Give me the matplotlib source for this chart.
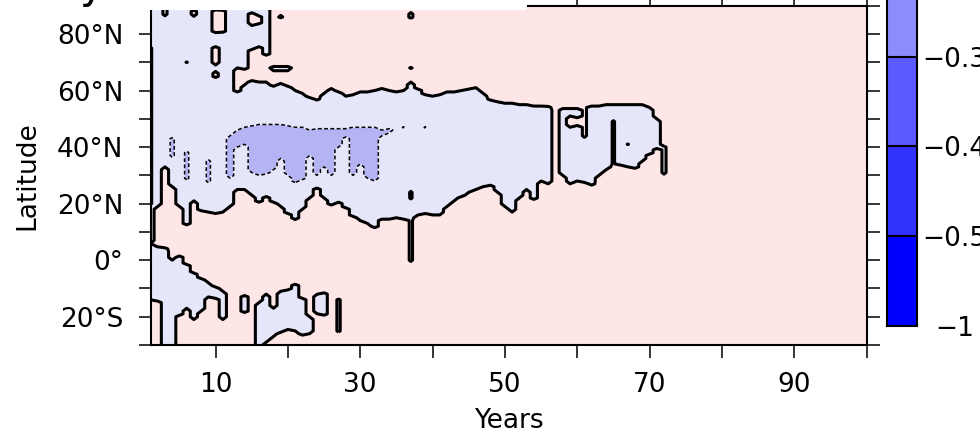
import numpy as np
import matplotlib
matplotlib.use("Agg")
import matplotlib.pyplot as plt
from matplotlib.patches import Rectangle

plt.rcParams["font.family"] = ["DejaVu Sans"]
plt.rcParams["axes.unicode_minus"] = True

# ---------------------------------------------------------------- levels
levels = [-1, -0.5, -0.4, -0.3, -0.2, -0.1, 0, 0.1, 0.2, 0.3, 0.4, 0.5, 1]
level_colors = ["#0000FF", "#3232FF", "#5A5AFF", "#8C8CFF", "#B4B4F5", "#E6E6FA",
                "#FFE6E6", "#FFB4B4", "#FF8C8C", "#FF5A5A", "#FF3232", "#FF0000"]
level_labels = ["\u22121", "\u22120.5", "\u22120.4", "\u22120.3", "\u22120.2",
                "\u22120.1", "0", "0.1", "0.2", "0.3", "0.4", "0.5", "1"]

# ---------------------------------------------------------------- axes labels
year_ticks = [10, 20, 30, 40, 50, 60, 70, 80, 90, 100]
year_labels = ["10", "", "30", "", "50", "", "70", "", "90", ""]
lat_ticks = [-20, 0, 20, 40, 60, 80]
lat_labels = ["20°S", "0°", "20°N", "40°N", "60°N", "80°N"]

# ---------------------------------------------------------------- anomaly field
years = np.arange(1, 101)
lats = np.arange(-30.0, 91.0, 1.0)
positive = 0.05
negative = -0.05
strong = -0.15

# northern negative band, years 1-56 (southern / northern edge, deg)
band_south = [6, 19, 33, 26, 19, 12.5, 21, 17.5, 17, 16.5, 17, 19, 25, 25, 23, 20.5,
              22.5, 20.5, 19, 16.5, 14.3, 18, 22, 25.5, 22, 19.5, 20.5, 18.5, 15.5, 14,
              13, 11.5, 14.5, 14.5, 15, 14.5, 14.5, 16, 16.5, 16, 16, 19, 21, 22.5, 24,
              25, 26, 26.5, 24, 19, 17, 22, 25, 21.5, 28, 27]
band_north = [95] * 12 + [59.5, 62, 63.5, 63, 63, 61.5, 62.5, 61.5, 60, 59, 57.5, 56.7,
                          59, 60.8, 59.5, 58, 58.5, 59.5, 59.5, 60, 60.8, 60, 59.5, 60,
                          63, 60.5, 58.5, 58, 58.5, 59.5, 59.5, 60, 60.5, 61, 59, 56.7,
                          56, 55.5, 55.5, 55, 55, 54.5, 54.5, 54.3]

# polar cap of the band, years 13-17 (lower edge)
cap_floor = [68, 67.5, 74.5, 75.5, 72.5]

# southern tropical patch, years 1-11
patch_north = [5.5, 4.8, 4.3, 0, 1.5, -1.5, -4.6, -6.5, -8, -9.5, -11]
patch_south = [-14, -14.5, -35, -35, -19.5, -17, -21, -18, -13, -13.5, -21]

# southern blob, years 16-23
blob_south = [-35, -29, -27, -25.5, -24.5, -25, -26.5, -26]
blob_north = [-15, -12, -17, -11, -10.5, -8.5, -13.5, -20]

# mid-latitude patch, years 58-71
east_south = [30, 27, 28, 27.5, 26.6, 30, 32, 34.5, 33.7, 33, 32.5, 35, 37.5, 39.5]
east_north = [53.7, 53.7, 53.7, 54, 54.5, 54.5, 55, 55, 55, 55, 55, 55, 54, 50]

# core below -0.1, years 12-34
core_top = [44, 46, 47, 47.5, 48, 48, 48, 48, 47.5, 47, 47, 46, 46.5, 46.5, 46.5,
            46.5, 46.5, 47, 47, 47, 47, 46, 46.5]
core_bottom = [29, 40, 41, 31, 30, 30.5, 32, 36, 30, 27.5, 28.5, 37, 30, 33, 30, 40,
               43.6, 30, 34, 29, 28, 44, 45]

# single-year features: year, lower lat, upper lat, value
spot_year = [18, 19, 20, 1, 10, 11, 10, 10, 15, 16, 7, 3, 6, 19,
             14, 24, 25, 27, 37, 37, 37, 37, 37,
             72, 59, 60, 61, 65, 67,
             4, 6, 9, 36, 39]
spot_lo = [67, 67, 67, 19.5, 80.5, 80.5, 69, 64.5, 83, 83.5, 86, 86, 69.5, 85.5,
           -18.5, -19, -19.5, -26, -1, 21, 35, 67.5, 85,
           30, 47, 47.5, 43, 33, 40.5,
           36, 28, 27, 46, 46]
spot_hi = [68.5, 68.5, 68.5, 76, 88.5, 88.5, 75.5, 67, 87.5, 86.5, 88.5, 89.5, 70.5, 87,
           -12.5, -12, -11.5, -13.5, 15, 25, 36, 68.5, 88,
           40.5, 51, 50.5, 56, 50, 41.5,
           43.5, 39, 36, 47.5, 47.5]
spot_value = [-0.05, -0.05, -0.05, 0.01, 0.05, 0.03, 0.05, 0.03, 0.05, 0.03, 0.03, 0.02, 0.005, -0.02,
              -0.05, -0.04, -0.04, -0.015, -0.015, 0.01, 0.005, -0.01, -0.02,
              -0.02, 0.05, 0.03, 0.02, 0.01, 0.005,
              -0.12, -0.12, -0.12, -0.11, -0.11]


def paint(field, first_year, lo, hi, value):
    """Blend `value` into the columns starting at `first_year` between lo and hi."""
    for k, (a, b) in enumerate(zip(lo, hi)):
        j = first_year - 1 + k
        d = np.minimum(lats - a, b - lats)
        m = np.clip(0.5 + d, 0.0, 1.0)
        field[:, j] = field[:, j] * (1 - m) + value * m


field = np.full((lats.size, years.size), positive)
paint(field, 1, band_south, band_north, negative)
paint(field, 13, cap_floor, [95] * len(cap_floor), negative)
paint(field, 1, patch_south, patch_north, negative)
paint(field, 16, blob_south, blob_north, negative)
paint(field, 58, east_south, east_north, negative)
paint(field, 12, core_bottom, core_top, strong)
for y, a, b, v in zip(spot_year, spot_lo, spot_hi, spot_value):
    paint(field, y, [a], [b], v)

# ---------------------------------------------------------------- figure
fig = plt.figure(figsize=(9.8, 4.34), dpi=100)
ax = fig.add_axes([150.5 / 980, 89 / 434, 716 / 980, 339.3 / 434])

cs = ax.contourf(years, lats, field, levels=levels, colors=level_colors)
ax.contour(years, lats, field, levels=[0], colors="k", linewidths=2.2)
dashed = ax.contour(years, lats, field, levels=[-0.1], colors="k", linewidths=1.1,
                    linestyles="dashed")
dashed.set_linestyle((0, (2.5, 1.6)))

ax.set_xlim(1, 100)
ax.set_ylim(-30, 90)
ax.set_xticks(year_ticks)
ax.set_xticklabels(year_labels)
ax.set_yticks(lat_ticks)
ax.set_yticklabels(lat_labels)
ax.set_yticks(np.arange(-30, 91, 10), minor=True)
ax.tick_params(which="both", direction="out", length=9, width=1.1, color="k",
               top=True, right=True, labelsize=19, pad=10.5)
for s in ax.spines.values():
    s.set_linewidth(1.5)

ax.set_xlabel("Years", fontsize=19)
ax.xaxis.label.set_va("center")
ax.xaxis.set_label_coords(0.5, -0.224)
ax.set_ylabel("Latitude", fontsize=19)
ax.yaxis.label.set_va("center")
ax.yaxis.set_label_coords(-0.1725, 0.5)

# colour bar
cax = fig.add_axes([887 / 980, 108.3 / 434, 30 / 980, 1076.4 / 434])
cb = fig.colorbar(cs, cax=cax, drawedges=True, spacing="uniform")
cb.set_ticks(levels)
cb.set_ticklabels(level_labels)
cb.outline.set_linewidth(1.5)
cb.dividers.set_linewidth(1.5)
cax.tick_params(axis="y", length=0, pad=27, labelsize=19)
for lbl in cax.get_yticklabels():
    lbl.set_horizontalalignment("center")

# panel heading strip
fig.add_artist(Rectangle((0, 1 - 10 / 434), 527 / 980, 10 / 434,
                         transform=fig.transFigure, facecolor="white",
                         edgecolor="none", zorder=5))
fig.text(80 / 980, 1 + 2 / 434, "y", fontsize=30, va="baseline", ha="left", zorder=6)

fig.savefig("out.png", dpi=100)
